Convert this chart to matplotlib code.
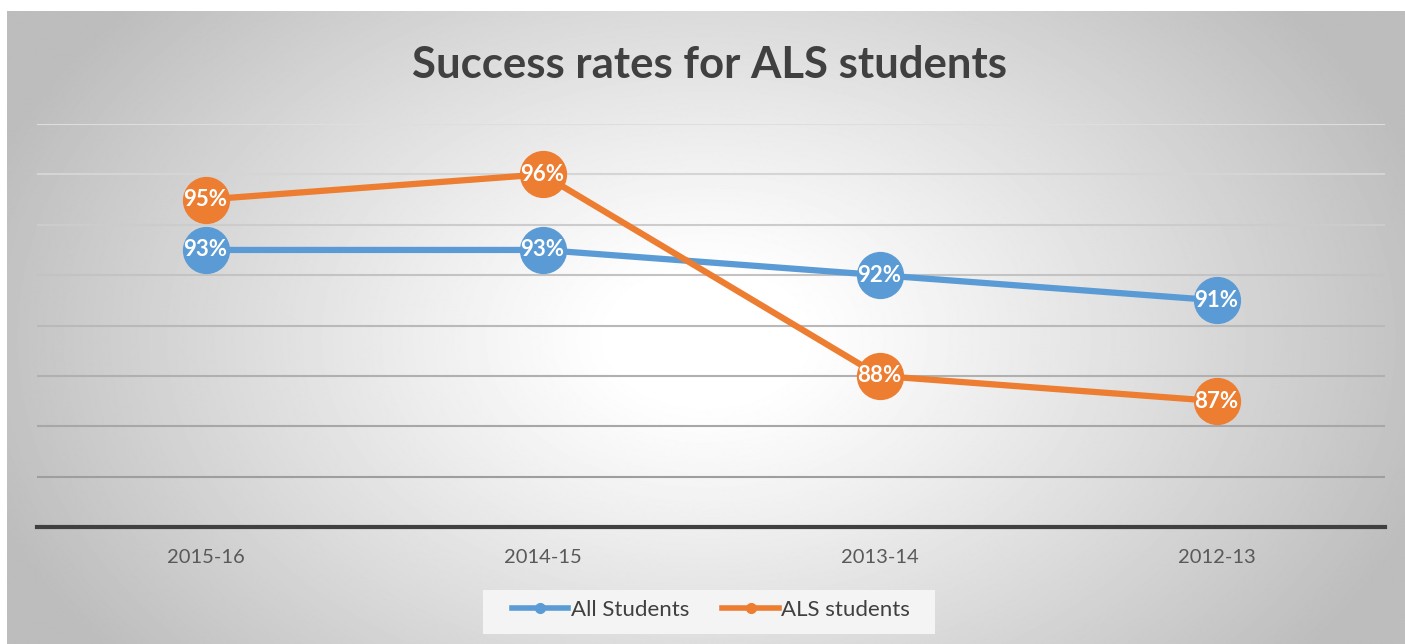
import matplotlib.pyplot as plt
import numpy as np
from matplotlib.lines import Line2D
from matplotlib.patches import Rectangle

plt.rcParams['font.family'] = ['Lato', 'DejaVu Sans']

years = ["2015-16", "2014-15", "2013-14", "2012-13"]
all_students = [93, 93, 92, 91]
als_students = [95, 96, 88, 87]
series_names = ["All Students", "ALS students"]

BLUE = "#5b9bd5"
ORANGE = "#ed7d31"

W, H = 1405, 644
fig = plt.figure(figsize=(W / 100, H / 100), dpi=100)

# radial grey gradient behind the chart
bg = fig.add_axes([7 / W, 0, 1 - 7 / W, 1 - 11 / H])
yy, xx = np.mgrid[0:640, 0:1400]
r = np.sqrt(((xx - 700) / 760) ** 2 + ((yy - 330) / 520) ** 2)
shade = np.clip(1.0 - 0.30 * np.clip(r - 0.12, 0, None) ** 1.1, 0.74, 1.0)
bg.imshow(shade, cmap="gray", vmin=0, vmax=1, aspect="auto", interpolation="bilinear")
bg.axis("off")

ax = fig.add_axes([37 / W, (H - 527) / H, 1348 / W, (527 - 124) / H])
ax.patch.set_alpha(0)
ax.set_xlim(-0.5, 3.5)
ax.set_ylim(82, 98)

# gridlines, lighter at the top
grid_vals = np.arange(84, 99, 2)
grid_cols = np.linspace(0.87, 0.62, len(grid_vals))[::-1]
for g, c in zip(grid_vals, grid_cols):
    ax.axhline(g, color=str(c), lw=1.5, zorder=1)

x = np.arange(len(years))
ax.plot(x, all_students, color=BLUE, lw=4.5, marker="o", ms=33,
        solid_capstyle="round", zorder=3)
ax.plot(x, als_students, color=ORANGE, lw=4.5, marker="o", ms=33,
        solid_capstyle="round", zorder=4)
for xi, v in zip(x, all_students):
    ax.text(xi, v, f"{v}%", color="white", fontsize=16, fontweight="bold",
            ha="center", va="center", zorder=6)
for xi, v in zip(x, als_students):
    ax.text(xi, v, f"{v}%", color="white", fontsize=16, fontweight="bold",
            ha="center", va="center", zorder=6)

for s in ["top", "right", "left"]:
    ax.spines[s].set_visible(False)
ax.spines["bottom"].set_color("#404040")
ax.spines["bottom"].set_linewidth(3)
ax.set_yticks([])
ax.set_xticks(x)
ax.set_xticklabels(years, fontsize=14.5, color="#595959")
ax.tick_params(axis="x", length=0, pad=16)

fig.text(710 / W, 1 - 65 / H, "Success rates for ALS students", fontsize=31.5,
         fontweight="bold", color="#404040", ha="center", va="center")

# legend box
fig.patches.append(Rectangle((483 / W, 1 - 634 / H), 452 / W, 44 / H,
                             transform=fig.transFigure, facecolor="#f4f4f4",
                             edgecolor="none", zorder=1))

handles = [Line2D([], [], color=BLUE, lw=4, marker="o", ms=7),
           Line2D([], [], color=ORANGE, lw=4, marker="o", ms=7)]
leg = fig.legend(handles, series_names, loc="center", bbox_to_anchor=(711 / W, 1 - 610 / H),
                 ncol=2, frameon=False, fontsize=16, handlelength=2.55, handletextpad=0.1,
                 columnspacing=1.5, borderpad=0.5)
for t in leg.get_texts():
    t.set_color("#404040")

plt.savefig("out.png", dpi=100)
